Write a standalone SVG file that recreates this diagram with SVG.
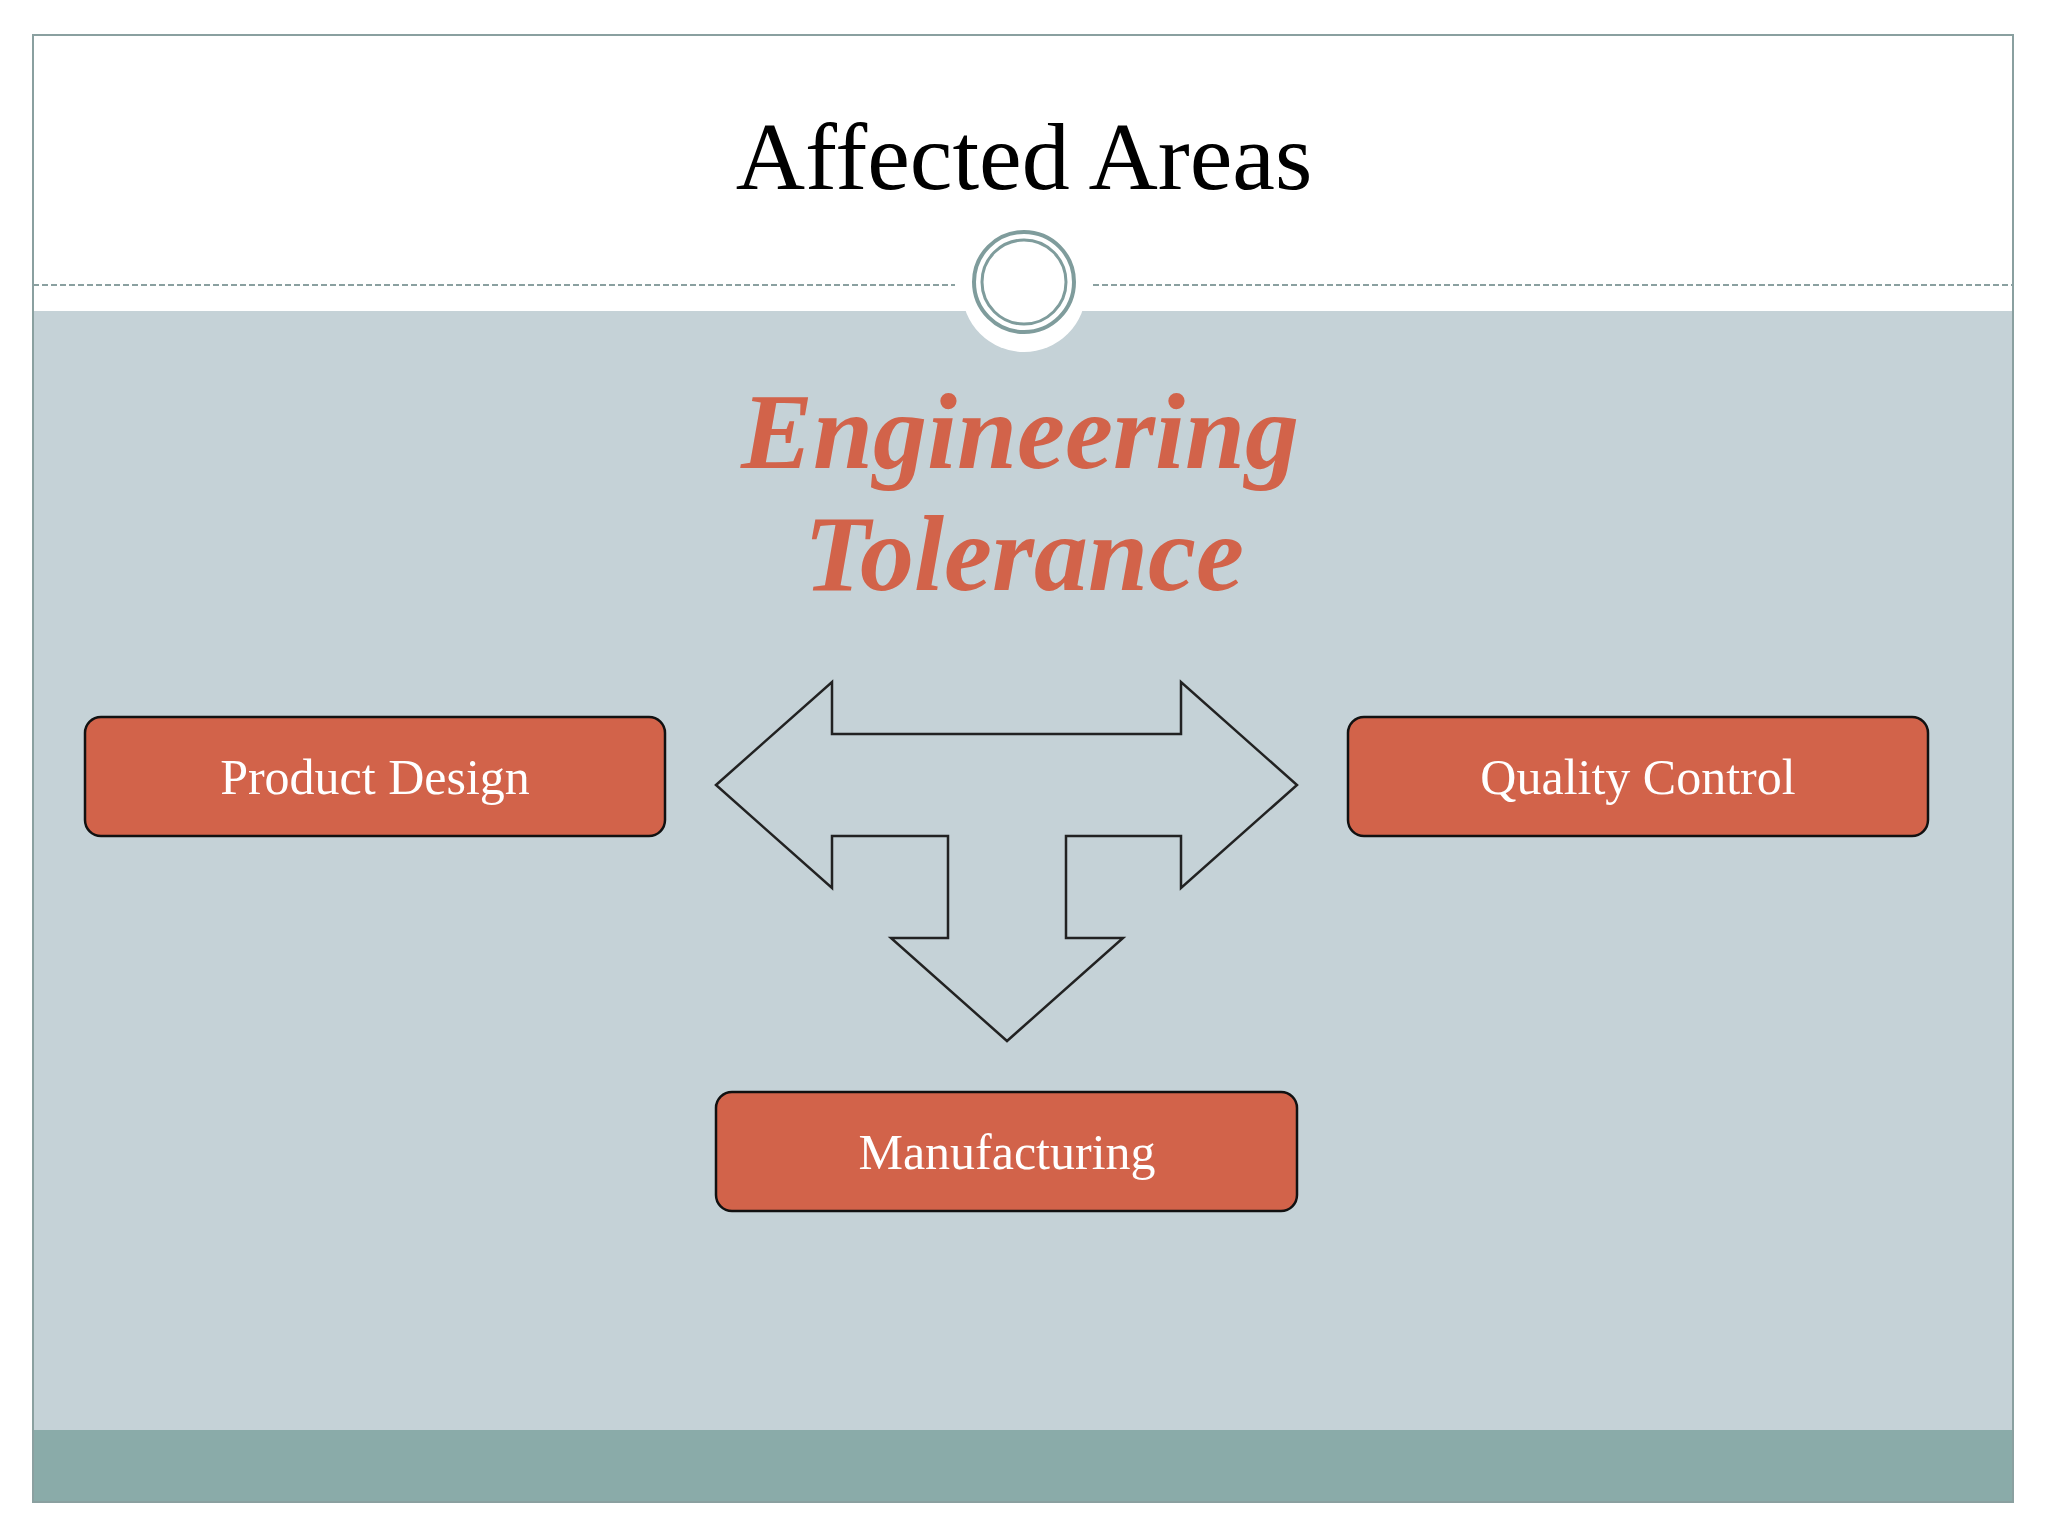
<svg xmlns="http://www.w3.org/2000/svg" width="2048" height="1536" viewBox="0 0 2048 1536">
<style>
.box{fill:#d2634a;stroke:#111;stroke-width:2.5}
.bt{font-family:"Liberation Serif",serif;font-size:50px;fill:#fff;text-anchor:middle}
.big{font-family:"Liberation Serif",serif;font-size:108px;font-weight:bold;font-style:italic;fill:#d2634a;text-anchor:middle}
</style>
<rect width="2048" height="1536" fill="#fff"/>
<rect x="33" y="311" width="1980" height="1119" fill="#c5d2d7"/>
<rect x="33" y="1430" width="1980" height="72" fill="#8aaba9"/>
<rect x="33" y="35" width="1980" height="1467" fill="none" stroke="#8aa0a0" stroke-width="2"/>
<circle cx="1024" cy="290" r="62" fill="#fff"/>
<line x1="33" y1="285" x2="955" y2="285" stroke="#8aa0a0" stroke-width="2" stroke-dasharray="6,3"/>
<line x1="1093" y1="285" x2="2013" y2="285" stroke="#8aa0a0" stroke-width="2" stroke-dasharray="6,3"/>
<circle cx="1024" cy="282" r="50" fill="#fff" stroke="#7f9c9c" stroke-width="4"/>
<circle cx="1024" cy="282" r="42" fill="#fff" stroke="#7f9c9c" stroke-width="3"/>
<text x="1024" y="189" font-family="Liberation Serif,serif" font-size="96" text-anchor="middle" fill="#000">Affected Areas</text>
<text x="1020" y="468" class="big">Engineering</text>
<text x="1024" y="590" class="big">Tolerance</text>
<g id="connectors">
<polygon points="716,785 832,682 832,734 1181,734 1181,682 1297,785 1181,888 1181,836 1066,836 1066,938 1123,938 1007,1041 891,938 948,938 948,836 832,836 832,888" fill="none" stroke="#222" stroke-width="2.5"/>
</g>
<g id="product"><rect class="box" x="85" y="717" width="580" height="119" rx="16"/><text class="bt" x="375" y="794">Product Design</text></g>
<g id="quality"><rect class="box" x="1348" y="717" width="580" height="119" rx="16"/><text class="bt" x="1638" y="794">Quality Control</text></g>
<g id="manufacturing"><rect class="box" x="716" y="1092" width="581" height="119" rx="16"/><text class="bt" x="1007" y="1169">Manufacturing</text></g>
</svg>
